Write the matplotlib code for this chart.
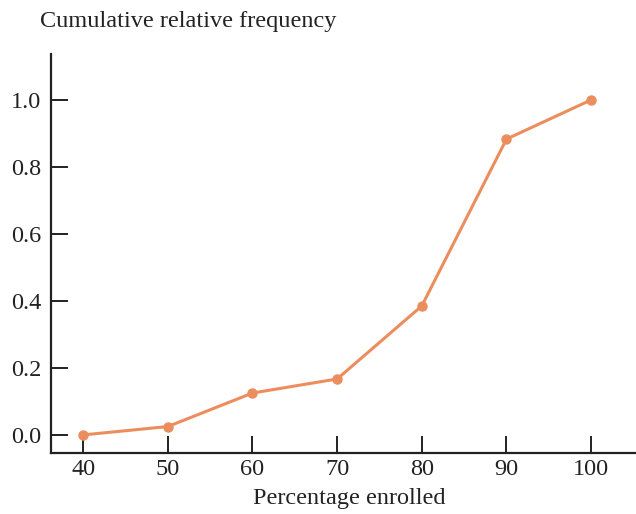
import matplotlib
matplotlib.use("Agg")
import matplotlib.pyplot as plt

percent = [40, 50, 60, 70, 80, 90, 100]
cum_rel_freq = [0.0, 0.025, 0.125, 0.167, 0.385, 0.883, 1.0]
x_ticks = [40, 50, 60, 70, 80, 90, 100]
y_ticks = [0.0, 0.2, 0.4, 0.6, 0.8, 1.0]

plt.rcParams['font.family'] = ['Liberation Serif', 'DejaVu Serif']

fig = plt.figure(figsize=(6.36, 5.14), dpi=100)
ax = fig.add_axes([51/636, 1-453/514, 1-51/636, (453-54)/514])
color = '#EC8D5E'
ax.plot(percent, cum_rel_freq, color=color, lw=2.2, marker='o', ms=6.5,
        markerfacecolor=color, markeredgecolor=color, clip_on=False)
ax.set_xlim(36.2, 105.3)
ax.set_ylim(-0.054, 1.137)
ax.set_xticks(x_ticks)
ax.set_yticks(y_ticks)
ax.set_yticklabels([f"{v:.1f}" for v in y_ticks])
for s in ['top', 'right']:
    ax.spines[s].set_visible(False)
for s in ['left', 'bottom']:
    ax.spines[s].set_linewidth(1.6)
    ax.spines[s].set_color('#222222')
ax.tick_params(axis='both', direction='in', length=12, width=1.4, colors='#222222',
               labelsize=17.5, labelcolor='#222222')
ax.tick_params(axis='y', pad=7)
ax.tick_params(axis='x', pad=4)
ax.set_xlabel('Percentage enrolled', fontsize=17.5, color='#222222')
ax.xaxis.set_label_coords((349-51)/585, -(508-453)/399, transform=None) if False else None
ax.xaxis.set_label_coords((349-51)/585, -(509-453)/399)
ax.xaxis.label.set_va('bottom')
fig.text(40/636, 1-22/514, 'Cumulative relative frequency', fontsize=17.5,
         color='#222222', ha='left', va='center')
fig.savefig('out.png', dpi=100)
